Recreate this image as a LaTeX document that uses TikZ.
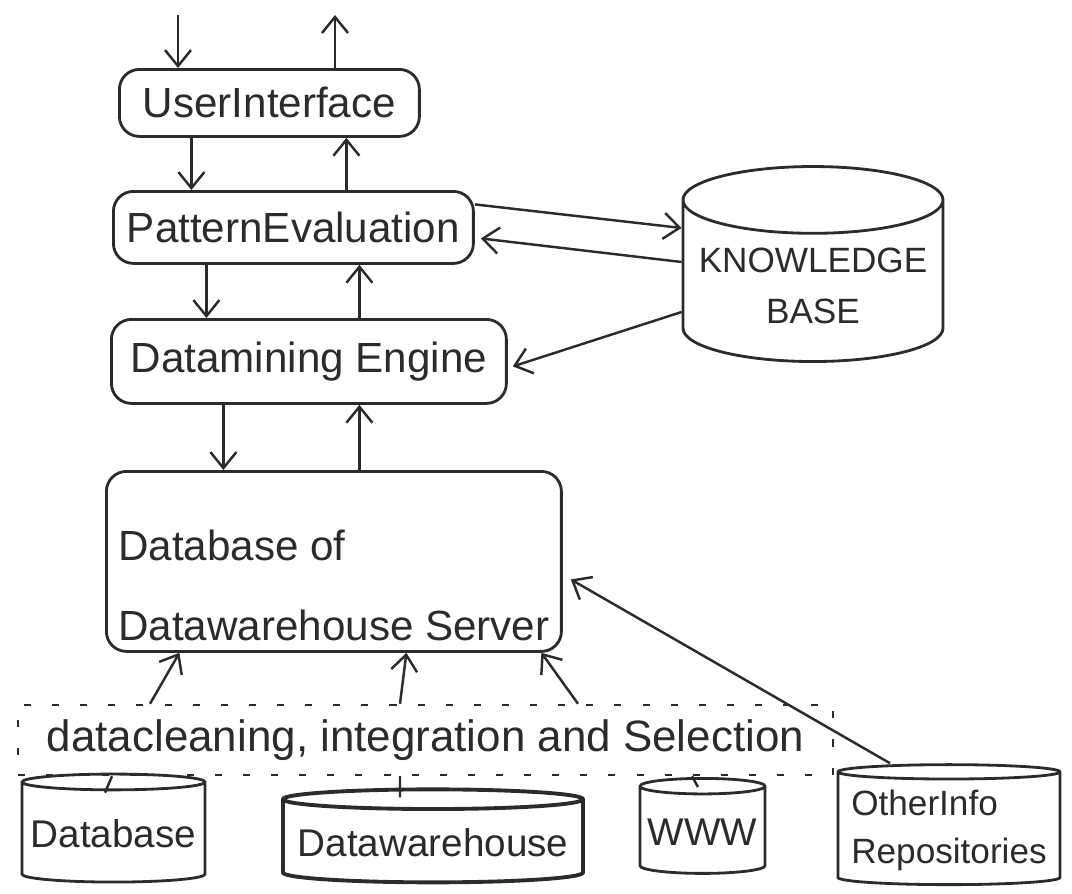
\documentclass[tikz,border=0pt]{standalone}
\usepackage{fontspec}
\setmainfont{Liberation Sans}
\usetikzlibrary{positioning,arrows.meta,shapes.geometric}
\definecolor{cInk}{HTML}{2B2B2B}

\begin{document}
\begin{tikzpicture}[
  x=0.1mm,y=-0.1mm,
  font=\fontsize{12}{14.4}\selectfont,
  box/.style={draw=cInk,text=cInk,line width=0.8pt,rounded corners=2mm,anchor=north west,inner sep=1mm},
  store/.style={draw=cInk,text=cInk,line width=0.8pt,cylinder,shape border rotate=90,inner sep=0.5mm,
                font=\fontsize{11}{13.6}\selectfont},
  stage/.style={draw=cInk,text=cInk,line width=0.7pt,dash pattern=on 2pt off 6pt},
  ar/.style={-{Straight Barb[length=1.6mm,width=2.6mm]},line width=0.7pt,draw=cInk},
  tick/.style={line width=0.7pt,draw=cInk}
]
\useasboundingbox (0,0) rectangle (1072,893);
% main column
\node[box,minimum width=30mm,minimum height=6.7mm] (ui) at (118,68) {UserInterface};
\node[box,minimum width=36mm,minimum height=7.2mm] (pe) at (112,190) {PatternEvaluation};
\node[box,minimum width=39.5mm,minimum height=8.4mm] (de) at (110,318) {Datamining Engine};
\node[box,minimum width=45.5mm,minimum height=18mm,align=left] (srv) at (105,470)
     {\rule{0pt}{7.8mm}Database of\\[2.9mm]Datawarehouse Server};
% knowledge base
\node[store,minimum width=26mm,minimum height=19.5mm,aspect=0.28,align=center,
      font=\fontsize{10}{14.4}\selectfont] (kb) at (813,286) {KNOWLEDGE\\BASE};
% user in and out
\coordinate (uin) at (178,15);
\coordinate (uout) at (335,15);
\draw[ar] (uin) -- (uin |- ui.north);
\draw[ar] (uout |- ui.north) -- (uout);
% up and down the column
\draw[ar] ([xshift=-7.8mm]ui.south) -- ([xshift=-7.8mm]ui.south |- pe.north);
\draw[ar] ([xshift=7.7mm]ui.south |- pe.north) -- ([xshift=7.7mm]ui.south);
\draw[ar] ([xshift=-8.7mm]pe.south) -- ([xshift=-8.7mm]pe.south |- de.north);
\draw[ar] ([xshift=6.6mm]pe.south |- de.north) -- ([xshift=6.6mm]pe.south);
\draw[ar] ([xshift=-8.55mm]de.south) -- ([xshift=-8.55mm]de.south |- srv.north);
\draw[ar] ([xshift=5.05mm]de.south |- srv.north) -- ([xshift=5.05mm]de.south);
% knowledge base links
\draw[ar] ([yshift=2.3mm]pe.east) -- ([yshift=5.8mm]kb.west);
\draw[ar] ([yshift=2.4mm]kb.west) -- ([xshift=0.6mm,yshift=-1.1mm]pe.east);
\draw[ar] ([yshift=-2.6mm]kb.west) -- ([xshift=0.5mm,yshift=-0.5mm]de.east);
% cleaning stage
\node[stage,minimum width=81.5mm,minimum height=7mm,font=\fontsize{12.5}{15}\selectfont] (clean) at (425.5,740)
     {datacleaning, integration and Selection};
% sources
\node[store,minimum width=18.3mm,minimum height=10.8mm,aspect=0.09] (db) at (113.5,834) {Database};
\node[store,minimum width=30mm,minimum height=9.3mm,aspect=0.07,line width=1.1pt] (dw) at (433,843) {Datawarehouse};
\node[store,minimum width=12.5mm,minimum height=9.5mm,aspect=0.13] (www) at (702.5,832) {WWW};
\node[store,minimum width=22.2mm,minimum height=12mm,aspect=0.07,align=left,
      font=\fontsize{10}{13.6}\selectfont] (oth) at (949,830) {OtherInfo\\Repositories};
% into the server
\draw[ar] ([xshift=-27.55mm]clean.north) -- ([xshift=-15.45mm]srv.south);
\draw[ar] ([xshift=-2.55mm]clean.north) -- ([xshift=7.25mm]srv.south);
\draw[ar] ([xshift=15.25mm]clean.north) -- ([xshift=20.75mm]srv.south);
\draw[ar] ([xshift=-5.9mm]oth.north) -- ([xshift=0.8mm,yshift=-1.8mm]srv.east);
% sources to cleaning
\draw[tick] ([xshift=-31.35mm]clean.south) -- ([xshift=-0.85mm,yshift=-2mm]db.north);
\draw[tick] ([xshift=-2.55mm]clean.south) -- ([xshift=-3.3mm,yshift=-1mm]dw.north);
\draw[tick] ([xshift=26.65mm]clean.south) -- ([xshift=-0.45mm,yshift=-1mm]www.north);
\end{tikzpicture}
\end{document}
